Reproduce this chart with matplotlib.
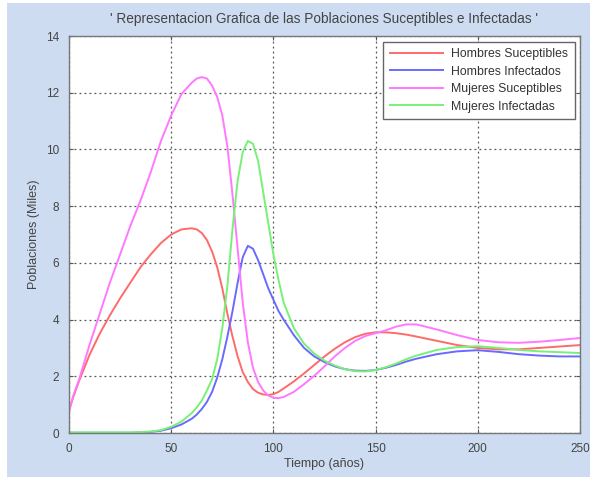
import matplotlib.pyplot as plt
from matplotlib.patches import Rectangle

# tiempo (años)
t = [0, 2, 5, 10, 15, 20, 25, 30, 35, 40, 45, 50, 55, 60, 62.5, 65, 67.5,
     70, 72.5, 75, 77.5, 80, 82.5, 85, 87.5, 90, 92.5, 95, 97.5, 100, 102.5,
     105, 110, 115, 120, 125, 130, 135, 140, 145, 150, 155, 160, 165, 170,
     180, 190, 200, 210, 220, 230, 240, 250]

hombres_sus = [0.8, 1.25, 1.85, 2.75, 3.5, 4.15, 4.75, 5.3, 5.85, 6.3, 6.7,
               7.0, 7.18, 7.22, 7.18, 7.05, 6.8, 6.4, 5.85, 5.1, 4.2, 3.4,
               2.7, 2.15, 1.8, 1.55, 1.42, 1.36, 1.34, 1.37, 1.45, 1.57,
               1.82, 2.1, 2.4, 2.7, 2.97, 3.2, 3.38, 3.5, 3.55, 3.55, 3.52,
               3.47, 3.4, 3.25, 3.1, 3.0, 2.95, 2.95, 3.0, 3.05, 3.1]

hombres_inf = [0.01, 0.01, 0.01, 0.01, 0.01, 0.01, 0.01, 0.01, 0.02, 0.04,
               0.08, 0.17, 0.3, 0.5, 0.65, 0.85, 1.1, 1.45, 1.95, 2.6, 3.4,
               4.3, 5.3, 6.2, 6.6, 6.5, 6.1, 5.6, 5.1, 4.7, 4.3, 4.0, 3.45,
               3.0, 2.7, 2.5, 2.35, 2.25, 2.2, 2.19, 2.22, 2.3, 2.4, 2.52,
               2.62, 2.78, 2.88, 2.92, 2.86, 2.78, 2.73, 2.7, 2.7]

mujeres_sus = [0.75, 1.3, 1.9, 3.1, 4.2, 5.3, 6.3, 7.3, 8.2, 9.2, 10.3, 11.2,
               11.95, 12.35, 12.5, 12.55, 12.5, 12.25, 11.85, 11.2, 10.1, 8.4,
               6.5, 4.6, 3.2, 2.3, 1.8, 1.5, 1.32, 1.24, 1.23, 1.27, 1.45,
               1.72, 2.02, 2.35, 2.7, 3.0, 3.25, 3.42, 3.52, 3.62, 3.75,
               3.83, 3.83, 3.65, 3.45, 3.28, 3.2, 3.18, 3.22, 3.28, 3.35]

mujeres_inf = [0.02, 0.02, 0.02, 0.02, 0.02, 0.02, 0.02, 0.02, 0.03, 0.05,
               0.1, 0.22, 0.4, 0.7, 0.9, 1.15, 1.5, 1.9, 2.6, 3.7, 5.2, 7.2,
               8.9, 9.9, 10.3, 10.2, 9.6, 8.5, 7.4, 6.3, 5.4, 4.6, 3.7, 3.15,
               2.8, 2.55, 2.38, 2.25, 2.18, 2.17, 2.22, 2.32, 2.45, 2.6, 2.73,
               2.93, 3.03, 3.06, 3.0, 2.93, 2.88, 2.85, 2.82]

series = [
    ("Hombres Suceptibles", hombres_sus, "#ff6a6a"),
    ("Hombres Infectados", hombres_inf, "#6a6aff"),
    ("Mujeres Suceptibles", mujeres_sus, "#ff78ff"),
    ("Mujeres Infectadas", mujeres_inf, "#78f078"),
]

plt.rcParams["font.family"] = ["Liberation Sans", "DejaVu Sans"]

fig = plt.figure(figsize=(5.9, 4.79), dpi=100, facecolor="white")
# fondo azulado de la ventana
fig.patches.append(Rectangle((7 / 590, 2 / 479), 583 / 590, 474 / 479,
                             transform=fig.transFigure, facecolor="#cddcf1",
                             edgecolor="none", zorder=-10))

ax = fig.add_axes([69 / 590, 1 - 433 / 479, 511 / 590, 397 / 479])
ax.set_zorder(1)
ax.set_facecolor("white")

for nombre, y, color in series:
    ax.plot(t, y, color=color, lw=1.4, label=nombre)

ax.set_xlim(0, 250)
ax.set_ylim(0, 14)
ax.set_xticks(range(0, 251, 50))
ax.set_yticks(range(0, 15, 2))
ax.grid(True, linestyle=(0, (1.5, 2.5)), color="#555555", lw=0.9)
ax.tick_params(direction="in", length=3, pad=7, labelsize=8.5,
               colors="#555555", labelcolor="#444444", top=True, right=True)
for s in ax.spines.values():
    s.set_color("#777777")
    s.set_linewidth(1.0)

ax.set_xlabel("Tiempo (años)", fontsize=9, color="#444444", labelpad=2)
ax.set_ylabel("Poblaciones (Miles)", fontsize=9, color="#444444", labelpad=4)
ax.set_title("' Representacion Grafica de las Poblaciones Suceptibles e Infectadas '",
             fontsize=9.8, color="#444444", pad=9)

leg = ax.legend(loc="upper right", fontsize=8.8, handlelength=4.4,
                borderaxespad=0.45, fancybox=False, framealpha=1,
                labelspacing=0.45, borderpad=0.55, handletextpad=0.6)
leg.get_frame().set_edgecolor("#666666")
leg.get_frame().set_linewidth(1.0)
for txt in leg.get_texts():
    txt.set_color("#333333")

fig.savefig("out.png", dpi=100, facecolor=fig.get_facecolor())
